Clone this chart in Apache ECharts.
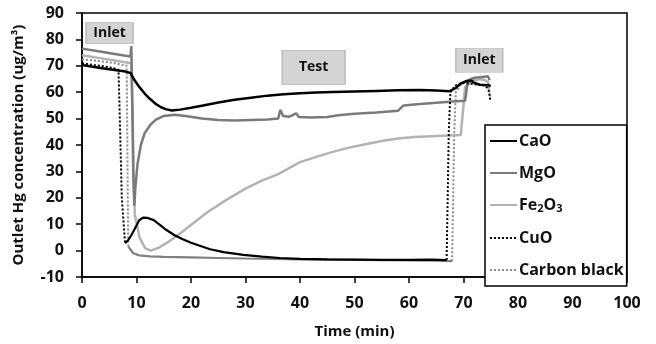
<!DOCTYPE html>
<html>
<head>
<meta charset="utf-8">
<script src="https://cdn.jsdelivr.net/npm/echarts@6/dist/echarts.min.js"></script>
<style>
  html, body { margin: 0; padding: 0; background: #fff; }
  #chart { width: 656px; height: 344px; }
</style>
</head>
<body>
<div id="chart"></div>
<script>
// [time (min), outlet Hg (ug/m3)]
const caO = [[0,70.3],[2,69.6],[4,69],[6,68.4],[8,67.8],[8.9,67.3],[9.5,65],[10.5,62],[11.5,59.5],[12.5,57.4],[13.5,55.6],[14.5,54.3],[15.5,53.5],[16.5,53.1],[18,53.4],[20,54.1],[22,54.9],[25,56.1],[28,57.1],[31,57.9],[34,58.7],[37,59.2],[40,59.6],[43,59.9],[46,60.1],[50,60.3],[54,60.5],[58,60.7],[62,60.8],[65,60.6],[67.5,60.4],[68.5,61.5],[69.5,63.3],[70.5,64.2],[71.5,64.3],[72,63.5],[73,62.8],[74.5,62.6],[75,62.4]];
const mgO = [[0,76.5],[3,75.5],[6,74.5],[8.9,73.5],[9.05,77.5],[9.2,60],[9.4,30],[9.6,17],[9.8,24],[10.2,33],[10.8,40],[11.5,44.5],[12.5,47.5],[13.5,49.5],[15,51],[17,51.5],[19,51],[22,50],[25,49.5],[28,49.3],[31,49.5],[34,49.7],[36,50],[36.4,53.3],[36.9,51],[38,50.7],[39.3,52],[39.8,50.6],[42,50.4],[45,50.6],[47,51.3],[50,51.8],[54,52.3],[58,53],[59,55],[62,55.5],[65,56],[68,56.5],[70.3,56.8],[70.8,64.5],[72,65.5],[73.5,65.8],[74.5,66],[74.8,64.5]];
const fe2O3 = [[0,74],[3,73],[6,72],[9,71],[9.3,50],[9.5,25],[9.7,13.5],[10.6,4.7],[11.6,0.9],[12.6,0],[14,1],[16,3.5],[18,6.5],[20.4,10.4],[23,14.5],[26.5,19.2],[30,23.5],[33,26.5],[36,29],[40,33.5],[43,35.5],[46,37.4],[49,39],[52,40.3],[55,41.5],[58,42.5],[61,43],[64,43.3],[66,43.5],[69.5,43.8],[70,55],[70.3,62],[71.5,64],[73,65],[74,64.5],[74.6,63.5]];
const cuOInlet = [[0,71],[2,70.3],[4,69.8],[6,69],[6.7,68.5],[7.0,45],[7.3,20],[7.9,2.8]];
const cuOTest = [[7.9,2.8],[8.5,4],[9.1,6],[10,9.5],[10.5,11.5],[11.2,12.5],[12,12.4],[13.1,11.6],[14,10.2],[15.5,7.8],[17,5.8],[18.5,4.3],[20,3],[23.5,0.5],[26,-0.6],[29.6,-1.6],[33,-2.3],[36.3,-2.8],[40,-3.1],[45,-3.3],[50,-3.4],[55,-3.5],[60,-3.5],[64,-3.4],[66.9,-3.6]];
const cuOOutlet = [[66.9,-3.6],[67.1,20],[67.3,45],[67.6,60],[68.5,62.5],[70,63.5],[72,63],[74,62.5],[74.6,61],[74.9,57]];
const carbonInlet = [[0,72.5],[3,71.8],[6,71],[8.2,70],[8.3,45],[8.4,20],[8.5,1.5]];
const carbonTest = [[8.5,1.5],[9.4,-1],[10.5,-1.8],[12.5,-2.2],[15,-2.4],[20,-2.6],[25,-2.8],[30,-3],[35,-3.1],[40,-3.3],[45,-3.4],[50,-3.5],[55,-3.6],[60,-3.7],[65,-3.8],[67.9,-4]];
const carbonOutlet = [[67.9,-4],[68.1,20],[68.3,45],[68.6,60],[69.5,63],[71,64.5],[73,65],[74.5,64],[74.8,60],[75,57.5]];
const legendNames = ["CaO", "MgO", "Fe2O3", "CuO", "Carbon black"];

const chart = echarts.init(document.getElementById("chart"));
const font = "'Open Sans', Lato, sans-serif";
const boxLabel = (text, x, y, w, h) => ({
  coord: [x, y], value: text, symbol: "rect", symbolSize: [w, h],
  itemStyle: { color: "#d4d4d4", borderColor: "#b8b8b8", borderWidth: 1 },
  label: { show: true, formatter: text, color: "#111", fontFamily: font, fontWeight: "bold", fontSize: 14 }
});
const line = (name, data, color, width, type, z) => ({
  name, type: "line", data, symbol: "none", smooth: false, z: z || 2,
  lineStyle: { color, width, type: type || "solid" },
  itemStyle: { color }
});

chart.setOption({
  animation: false,
  backgroundColor: "#fff",
  grid: { left: 82, right: 29, top: 13, bottom: 65, show: true, borderColor: "#000", borderWidth: 1.5 },
  legend: {
    data: legendNames,
    orient: "vertical",
    left: 485, top: 125,
    padding: [8, 3, 8, 4],
    itemWidth: 27, itemHeight: 14, itemGap: 16,
    itemStyle: { opacity: 0 },
    backgroundColor: "#fff",
    borderColor: "#000", borderWidth: 1.5, borderRadius: 0,
    formatter: (n) => n === "Fe2O3" ? "Fe{s|2}O{s|3}" : n,
    textStyle: {
      color: "#111", fontFamily: font, fontWeight: "bold", fontSize: 16, padding: [0, 0, 0, -3],
      rich: { s: { fontSize: 11, fontFamily: font, fontWeight: "bold", color: "#111", verticalAlign: "bottom", padding: [7, 0, 0, 0] } }
    }
  },
  xAxis: {
    type: "value", min: 0, max: 100, interval: 10,
    name: "Time (min)", nameLocation: "middle", nameGap: 47,
    nameTextStyle: { color: "#111", fontFamily: font, fontWeight: "bold", fontSize: 15 },
    axisLine: { onZero: false, lineStyle: { color: "#000", width: 1.5 } },
    axisTick: { inside: false, length: 6, lineStyle: { color: "#000", width: 1.5 } },
    axisLabel: { color: "#111", fontFamily: font, fontWeight: "bold", fontSize: 16, margin: 18 },
    splitLine: { show: false }
  },
  yAxis: {
    type: "value", min: -10, max: 90, interval: 10,
    name: "Outlet Hg concentration (ug/m\u00b3)", nameLocation: "middle", nameGap: 56,
    nameTextStyle: { color: "#111", fontFamily: font, fontWeight: "bold", fontSize: 15 },
    axisLine: { show: true, onZero: false, lineStyle: { color: "#000", width: 1.5 } },
    axisTick: { show: true, inside: false, length: 6, lineStyle: { color: "#000", width: 1.5 } },
    axisLabel: { color: "#111", fontFamily: font, fontWeight: "bold", fontSize: 16, margin: 18 },
    splitLine: { show: false }
  },
  series: [
    Object.assign(line("CaO", caO, "#000", 2.5, "solid", 5), {
      markPoint: {
        silent: true,
        data: [
          boxLabel("Inlet", 5.05, 82.4, 47, 21),
          boxLabel("Test", 42.5, 69.4, 63, 34),
          boxLabel("Inlet", 72.9, 72.1, 47, 24)
        ]
      }
    }),
    line("MgO", mgO, "#7a7a7a", 2.5, "solid", 4),
    line("Fe2O3", fe2O3, "#b3b3b3", 2.5, "solid", 3),
    line("CuO", cuOInlet, "#000", 2, "dotted", 6),
    line("CuO", cuOTest, "#000", 2.2, "solid", 6),
    line("CuO", cuOOutlet, "#000", 2, "dotted", 6),
    line("Carbon black", carbonInlet, "#8a8a8a", 2, "dotted", 2),
    line("Carbon black", carbonTest, "#808080", 2.2, "solid", 2),
    line("Carbon black", carbonOutlet, "#8a8a8a", 2, "dotted", 2)
  ]
});
</script>
</body>
</html>
